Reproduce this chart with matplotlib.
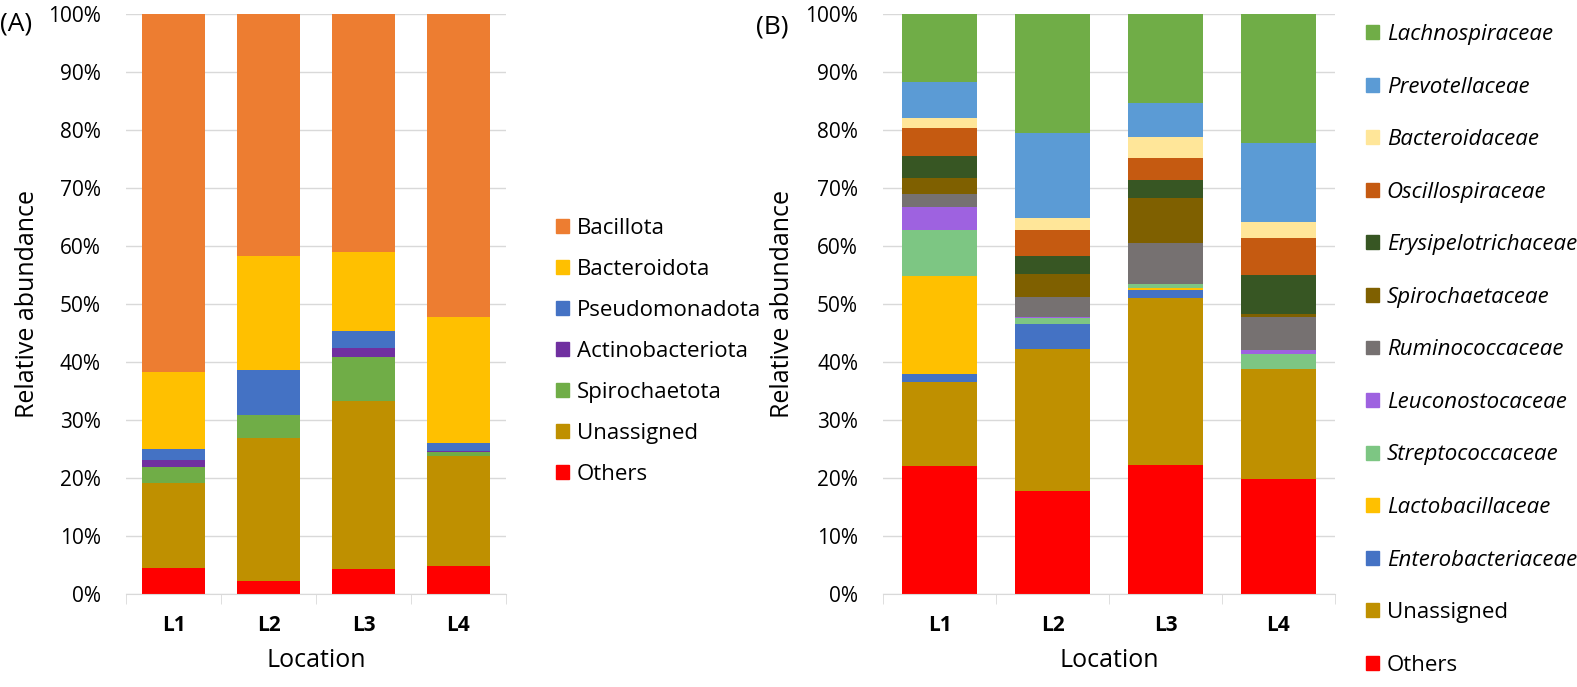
import numpy as np
import matplotlib.pyplot as plt
from matplotlib.patches import Patch
from matplotlib.ticker import PercentFormatter, FixedLocator

plt.rcParams['font.family'] = ['Open Sans', 'DejaVu Sans']

locations = ['L1', 'L2', 'L3', 'L4']

# panel A - phylum level (stacked bottom -> top), percent
phyla = ['Others', 'Unassigned', 'Spirochaetota', 'Actinobacteriota',
         'Pseudomonadota', 'Bacteroidota', 'Bacillota']
a_others = [4.5, 2.3, 4.3, 4.8]
a_unassigned = [14.6, 24.6, 29.0, 19.0]
a_spirochaetota = [2.8, 4.0, 7.6, 0.6]
a_actinobacteriota = [1.2, 0.0, 1.5, 0.3]
a_pseudomonadota = [1.9, 7.7, 2.9, 1.3]
a_bacteroidota = [13.2, 19.6, 13.6, 21.8]
a_bacillota = [61.8, 41.8, 41.1, 52.2]
a_colors = ['#FF0000', '#BF9000', '#70AD47', '#7030A0', '#4472C4', '#FFC000', '#ED7D31']

# panel B - family level (stacked bottom -> top), percent
families = ['Others', 'Unassigned', 'Enterobacteriaceae', 'Lactobacillaceae',
            'Streptococcaceae', 'Leuconostocaceae', 'Ruminococcaceae',
            'Spirochaetaceae', 'Erysipelotrichaceae', 'Oscillospiraceae',
            'Bacteroidaceae', 'Prevotellaceae', 'Lachnospiraceae']
b_others = [22.0, 17.8, 22.2, 19.8]
b_unassigned = [14.6, 24.5, 28.9, 19.0]
b_entero = [1.3, 4.2, 1.4, 0.0]
b_lacto = [16.9, 0.0, 0.3, 0.0]
b_strep = [7.9, 1.1, 0.6, 2.5]
b_leuco = [4.1, 0.2, 0.0, 0.8]
b_rumino = [2.1, 3.4, 7.2, 5.7]
b_spiro = [2.8, 3.9, 7.7, 0.5]
b_erysip = [3.9, 3.1, 3.1, 6.7]
b_oscillo = [4.8, 4.5, 3.8, 6.4]
b_bacteroid = [1.7, 2.2, 3.6, 2.7]
b_prevot = [6.1, 14.6, 5.9, 13.7]
b_lachno = [11.8, 20.5, 15.3, 22.2]
b_colors = ['#FF0000', '#BF9000', '#4472C4', '#FFC000', '#7DC683', '#9E62E0',
            '#767171', '#7F6000', '#375623', '#C55A11', '#FFE699', '#5B9BD5', '#70AD47']

a_data = [a_others, a_unassigned, a_spirochaetota, a_actinobacteriota,
          a_pseudomonadota, a_bacteroidota, a_bacillota]
b_data = [b_others, b_unassigned, b_entero, b_lacto, b_strep, b_leuco, b_rumino,
          b_spiro, b_erysip, b_oscillo, b_bacteroid, b_prevot, b_lachno]

W, H = 1577, 687
fig = plt.figure(figsize=(W / 100, H / 100), dpi=100)


def px_axes(left, right, top, bottom):
    return fig.add_axes([left / W, 1 - bottom / H, (right - left) / W, (bottom - top) / H])


def stack(ax, data, colors):
    x = np.arange(len(locations))
    bottom = np.zeros(len(locations))
    for vals, c in zip(data, colors):
        ax.bar(x, vals, 0.66, bottom=bottom, color=c, zorder=2)
        bottom += np.array(vals)
    ax.set_xlim(-0.5, len(locations) - 0.5)
    ax.set_ylim(0, 100)
    ax.set_yticks(np.arange(0, 101, 10))
    ax.yaxis.set_major_formatter(PercentFormatter(decimals=0))
    ax.grid(axis='y', color='#D9D9D9', lw=1, zorder=0)
    for s in ['left', 'right', 'top']:
        ax.spines[s].set_visible(False)
    ax.spines['bottom'].set_color('#D9D9D9')
    ax.set_xticks(x)
    ax.set_xticklabels(locations, fontweight='bold', fontsize=15)
    ax.xaxis.set_minor_locator(FixedLocator(np.arange(-0.5, len(locations), 1)))
    ax.tick_params(axis='x', which='major', length=0, pad=15)
    ax.tick_params(axis='x', which='minor', length=7, color='#D9D9D9')
    ax.tick_params(axis='y', length=0, labelsize=15, pad=18)
    ax.set_xlabel('Location', fontsize=18)
    ax.set_ylabel('Relative abundance', fontsize=18)


axA = px_axes(126, 506, 14, 594)
stack(axA, a_data, a_colors)
axA.yaxis.set_label_coords(-0.226, 0.5)
axA.xaxis.set_label_coords(0.5, -0.093)

axB = px_axes(883, 1335, 14, 594)
stack(axB, b_data, b_colors)
axB.yaxis.set_label_coords(-0.195, 0.5)
axB.xaxis.set_label_coords(0.5, -0.093)

# legends, top entry first
ha = [Patch(color=c) for c in a_colors][::-1]
axA.legend(ha, phyla[::-1], loc='upper left', bbox_to_anchor=(536 / W, 1 - 198 / H),
           bbox_transform=fig.transFigure, frameon=False, fontsize=16,
           handlelength=0.58, handleheight=0.58, handletextpad=0.35, labelspacing=0.9)

hb = [Patch(color=c) for c in b_colors][::-1]
labels_b = families[::-1]
legB = axB.legend(hb, labels_b, loc='upper left', bbox_to_anchor=(1346 / W, 1 - 4 / H),
                  bbox_transform=fig.transFigure, frameon=False, fontsize=16,
                  handlelength=0.58, handleheight=0.58, handletextpad=0.35, labelspacing=1.42)
for t in legB.get_texts():
    if t.get_text() not in ('Unassigned', 'Others'):
        t.set_fontstyle('italic')

fig.text(0 / W, 1 - 24 / H, '(A)', fontsize=19, va='center', ha='left')
fig.text(756 / W, 1 - 27 / H, '(B)', fontsize=19, va='center', ha='left')

fig.savefig('out.png', dpi=100)
